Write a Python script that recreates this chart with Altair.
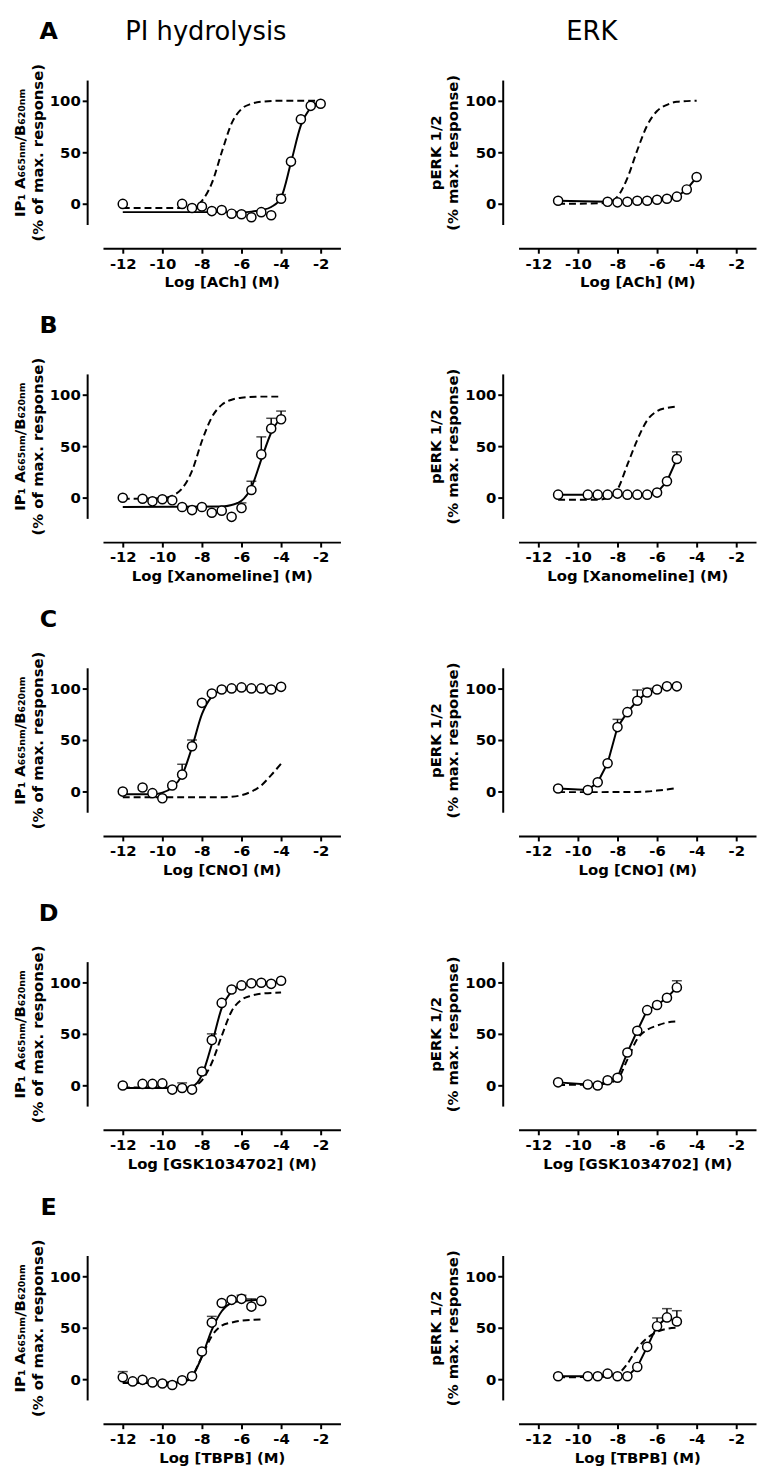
import altair as alt
import pandas as pd

FONT = "DejaVu Sans"

# ---------------- data ----------------
# Panel A, PI hydrolysis (ACh)
A_PI_X = [-12, -9, -8.5, -8, -7.5, -7, -6.5, -6, -5.5, -5, -4.5, -4, -3.5, -3, -2.5, -2]
A_PI_Y = [0, 0, -4, -2.5, -7, -6, -9.5, -10, -13, -8, -11, 5, 41, 82, 95, 97]
A_PI_E = [0, 0, 0, 0, 0, 0, 0, 0, 0, 0, 0, 4, 0, 0, 0, 0]
A_PI_FIT_X = [-12, -6, -5.5, -5, -4.5, -4, -3.5, -3, -2.5, -2]
A_PI_FIT_Y = [-8, -8, -7.5, -6, -3, 6, 40, 76, 93, 99]
A_PI_REF_X = [-12, -9, -8.5, -8, -7.5, -7, -6.5, -6, -5.5, -5, -4, -2]
A_PI_REF_Y = [-4, -4, -3, 3, 20, 50, 78, 92, 97, 99, 100, 100]
# Panel A, ERK (ACh)
A_ERK_X = [-11, -8.5, -8, -7.5, -7, -6.5, -6, -5.5, -5, -4.5, -4]
A_ERK_Y = [3, 2, 1.5, 2, 3, 3, 4, 5, 7, 14, 26]
A_ERK_E = [0, 0, 0, 0, 0, 0, 0, 0, 0, 0, 0]
A_ERK_REF_X = [-11, -9, -8.5, -8, -7.5, -7, -6.5, -6, -5.5, -5, -4]
A_ERK_REF_Y = [0, 0.5, 1.5, 7, 25, 52, 76, 90, 96, 99, 100]

# Panel B, PI hydrolysis (Xanomeline)
B_PI_X = [-12, -11, -10.5, -10, -9.5, -9, -8.5, -8, -7.5, -7, -6.5, -6, -5.5, -5, -4.5, -4]
B_PI_Y = [0, -1, -3.5, -1.5, -2.5, -9, -12, -9, -14.5, -12.5, -18.5, -10, 7.5, 42, 67, 76]
B_PI_E = [0, 0, 0, 0, 0, 0, 0, 0, 0, 0, 0, 5, 8.5, 17, 10, 8]
B_PI_FIT_X = [-12, -7, -6.5, -6, -5.5, -5, -4.5, -4]
B_PI_FIT_Y = [-9, -8.5, -7, -3, 10, 37, 63, 78]
B_PI_REF_X = [-12, -10, -9.5, -9, -8.5, -8, -7.5, -7, -6.5, -6, -5, -4]
B_PI_REF_Y = [-1, -0.5, 2, 9, 26, 55, 78, 90, 95, 97, 98, 98]
# Panel B, ERK (Xanomeline)
B_ERK_X = [-11, -9.5, -9, -8.5, -8, -7.5, -7, -6.5, -6, -5.5, -5]
B_ERK_Y = [3, 3, 3, 3, 4, 3, 3, 3, 5, 16, 37.5]
B_ERK_E = [0, 0, 0, 0, 0, 0, 0, 0, 0, 0, 7]
B_ERK_REF_X = [-11, -9, -8.5, -8, -7.5, -7, -6.5, -6, -5.5, -5]
B_ERK_REF_Y = [-2, -2, 0, 8, 32, 56, 75, 84, 87, 88.5]

# Panel C, PI hydrolysis (CNO)
C_PI_X = [-12, -11, -10.5, -10, -9.5, -9, -8.5, -8, -7.5, -7, -6.5, -6, -5.5, -5, -4.5, -4]
C_PI_Y = [0, 4, -1.5, -6.5, 6, 16.5, 44, 86, 95, 99, 100, 101, 100, 100, 99, 101.5]
C_PI_E = [0, 0, 0, 0, 0, 10, 6, 0, 0, 0, 0, 0, 0, 0, 0, 0]
C_PI_FIT_X = [-12, -10.5, -10, -9.5, -9, -8.5, -8, -7.5, -7, -6, -4]
C_PI_FIT_Y = [-2.5, -2.5, -1, 4, 16, 43, 75, 92, 98, 100, 100]
C_PI_REF_X = [-12, -7, -6.5, -6, -5.5, -5, -4.5, -4]
C_PI_REF_Y = [-5.5, -5.5, -5, -3.5, 0, 6, 16, 27]
# Panel C, ERK (CNO)
C_ERK_X = [-11, -9.5, -9, -8.5, -8, -7.5, -7, -6.5, -6, -5.5, -5]
C_ERK_Y = [3, 1.5, 9, 27.5, 62.5, 77, 88, 96, 99, 102, 102]
C_ERK_E = [0, 0, 0, 0, 7.5, 0, 10.5, 4, 0, 0, 0]
C_ERK_REF_X = [-11, -9, -7, -6.5, -6, -5.5, -5]
C_ERK_REF_Y = [-0.5, -0.5, -0.3, 0, 1, 2, 3.5]

# Panel D, PI hydrolysis (GSK1034702)
D_PI_X = [-12, -11, -10.5, -10, -9.5, -9, -8.5, -8, -7.5, -7, -6.5, -6, -5.5, -5, -4.5, -4]
D_PI_Y = [0, 1.5, 1.5, 2, -4, -2.5, -4, 13.5, 44, 80, 93, 97, 99, 99.5, 98.5, 101.5]
D_PI_E = [0, 0, 0, 0, 0, 5, 0, 0, 6, 0, 0, 0, 0, 0, 0, 0]
D_PI_FIT_X = [-12, -9, -8.5, -8, -7.5, -7, -6.5, -6, -5, -4]
D_PI_FIT_Y = [-2.5, -2.5, -1, 10, 40, 75, 91, 97, 99.5, 100]
D_PI_REF_X = [-12, -9, -8.5, -8, -7.5, -7, -6.5, -6, -5.5, -5, -4]
D_PI_REF_Y = [-2, -2, -1, 5, 22, 48, 72, 83, 87, 89, 90]
# Panel D, ERK (GSK1034702)
D_ERK_X = [-11, -9.5, -9, -8.5, -8, -7.5, -7, -6.5, -6, -5.5, -5]
D_ERK_Y = [3, 1, 0, 5, 7.5, 32, 53, 73, 78, 85, 95]
D_ERK_E = [0, 0, 0, 0, 0, 0, 0, 0, 0, 0, 6.5]
D_ERK_REF_X = [-11, -9, -8.5, -8, -7.5, -7, -6.5, -6, -5.5, -5]
D_ERK_REF_Y = [0.5, 1, 2, 6, 25, 45, 54, 58, 61, 62]

# Panel E, PI hydrolysis (TBPB)
E_PI_X = [-12, -11.5, -11, -10.5, -10, -9.5, -9, -8.5, -8, -7.5, -7, -6.5, -6, -5.5, -5]
E_PI_Y = [2, -2, -0.5, -3, -4, -5.5, -1, 3, 27, 55, 74, 77, 78, 70.5, 76]
E_PI_E = [5.5, 0, 0, 0, 0, 0, 0, 0, 0, 6, 0, 0, 3.5, 7.5, 0]
E_PI_FIT_X = [-12, -10, -9, -8.5, -8, -7.5, -7, -6.5, -6, -5]
E_PI_FIT_Y = [-3.5, -3.5, -2.5, 3, 22, 48, 66, 74, 76, 77]
E_PI_REF_X = [-12, -9, -8.5, -8, -7.5, -7, -6.5, -6, -5]
E_PI_REF_Y = [-3, -3, 3, 22, 42, 52, 55, 57, 58]
# Panel E, ERK (TBPB)
E_ERK_X = [-11, -9.5, -9, -8.5, -8, -7.5, -7, -6.5, -6, -5.5, -5]
E_ERK_Y = [3, 3, 3, 5.5, 3, 3, 12, 31.5, 51.5, 60, 56]
E_ERK_E = [0, 0, 0, 0, 0, 0, 0, 0, 8, 8.5, 10.5]
E_ERK_REF_X = [-11, -8.5, -8, -7.5, -7, -6.5, -6, -5.5, -5]
E_ERK_REF_Y = [2, 2.5, 5, 15, 30, 40, 46, 49, 50]

LETTERS = ["A", "B", "C", "D", "E"]
X_TITLES = ["Log [ACh] (M)", "Log [Xanomeline] (M)", "Log [CNO] (M)",
            "Log [GSK1034702] (M)", "Log [TBPB] (M)"]
PI_YTITLE = ["IP\u2081 A\u2086\u2086\u2085\u2099\u2098/B\u2086\u2082\u2080\u2099\u2098",
             "(% of max. response)"]
ERK_YTITLE = ["pERK 1/2", "(% max. response)"]
HEADERS = ["PI hydrolysis", "ERK"]
X_TICKS = [-12, -10, -8, -6, -4, -2]
Y_TICKS = [0, 50, 100]

# ---------------- chart construction ----------------
W, H = 240, 146
xscale = alt.Scale(domain=[-13, -1], nice=False, zero=False)
yscale = alt.Scale(domain=[-20, 120], nice=False, zero=False)


def x_axis(title):
    return alt.Axis(title=title, values=X_TICKS, labelExpr="'' + datum.value",
                    offset=24, grid=False, domainWidth=2, domainColor="black",
                    tickColor="black", tickWidth=2, tickSize=5,
                    labelFont=FONT, labelFontSize=15, labelFontWeight="bold",
                    labelColor="black", labelPadding=3, labelFlush=False,
                    labelOverlap=False, titleFont=FONT, titleFontSize=15,
                    titleFontWeight="bold", titleColor="black", titlePadding=4)


def y_axis(title):
    return alt.Axis(title=title, values=Y_TICKS, offset=16, grid=False,
                    domainWidth=2, domainColor="black", tickColor="black",
                    tickWidth=2, tickSize=5, labelFont=FONT, labelFontSize=15,
                    labelFontWeight="bold", labelColor="black", labelPadding=2,
                    labelFlush=False, labelOverlap=False, titleFont=FONT,
                    titleFontSize=15, titleFontWeight="bold", titleColor="black",
                    titlePadding=4, titleLineHeight=18)


def panel(px, py, pe, sx, sy, rx, ry, xtitle, ytitle, smooth,
          letter=None, header=None, header_x=0):
    pts = pd.DataFrame({"x": px, "y": py, "err": pe})
    pts["top"] = pts["y"] + pts["err"]
    errs = pts[pts["err"] > 0]
    solid = pd.DataFrame({"x": sx, "y": sy})
    ref = pd.DataFrame({"x": rx, "y": ry})
    X = alt.X("x:Q", scale=xscale, axis=x_axis(xtitle))
    Y = alt.Y("y:Q", scale=yscale, axis=y_axis(ytitle))
    layers = [
        alt.Chart(ref).mark_line(color="black", strokeWidth=2, strokeDash=[7, 4],
                                 interpolate="monotone").encode(x=X, y=Y),
        alt.Chart(solid).mark_line(color="black", strokeWidth=2,
                                   interpolate="monotone" if smooth else "linear"
                                   ).encode(x=X, y=Y),
    ]
    if len(errs):
        layers.append(alt.Chart(errs).mark_rule(color="black", strokeWidth=1.5)
                      .encode(x=X, y=Y, y2="top:Q"))
        layers.append(alt.Chart(errs).mark_tick(color="black", thickness=1.5, size=10,
                                                orient="horizontal")
                      .encode(x=X, y=alt.Y("top:Q", scale=yscale,
                                           axis=y_axis(ytitle))))
    layers.append(alt.Chart(pts).mark_point(shape="circle", filled=True, fill="white",
                                            stroke="black", strokeWidth=1.5, size=85,
                                            opacity=1).encode(x=X, y=Y))
    if letter:
        layers.append(alt.Chart(pd.DataFrame({"t": [letter]})).mark_text(
            font=FONT, fontSize=24, fontWeight="bold", color="black",
            align="center", baseline="middle").encode(
            x=alt.value(-55), y=alt.value(-48), text="t:N"))
    if header:
        layers.append(alt.Chart(pd.DataFrame({"t": [header]})).mark_text(
            font=FONT, fontSize=26, color="black",
            align="center", baseline="middle").encode(
            x=alt.value(header_x), y=alt.value(-48), text="t:N"))
    return alt.layer(*layers).properties(width=W, height=H)


panels = [
    panel(A_PI_X, A_PI_Y, A_PI_E, A_PI_FIT_X, A_PI_FIT_Y, A_PI_REF_X, A_PI_REF_Y,
          X_TITLES[0], PI_YTITLE, True, LETTERS[0], HEADERS[0], 104),
    panel(A_ERK_X, A_ERK_Y, A_ERK_E, A_ERK_X, A_ERK_Y, A_ERK_REF_X, A_ERK_REF_Y,
          X_TITLES[0], ERK_YTITLE, False, None, HEADERS[1], 74),
    panel(B_PI_X, B_PI_Y, B_PI_E, B_PI_FIT_X, B_PI_FIT_Y, B_PI_REF_X, B_PI_REF_Y,
          X_TITLES[1], PI_YTITLE, True, LETTERS[1]),
    panel(B_ERK_X, B_ERK_Y, B_ERK_E, B_ERK_X, B_ERK_Y, B_ERK_REF_X, B_ERK_REF_Y,
          X_TITLES[1], ERK_YTITLE, False),
    panel(C_PI_X, C_PI_Y, C_PI_E, C_PI_FIT_X, C_PI_FIT_Y, C_PI_REF_X, C_PI_REF_Y,
          X_TITLES[2], PI_YTITLE, True, LETTERS[2]),
    panel(C_ERK_X, C_ERK_Y, C_ERK_E, C_ERK_X, C_ERK_Y, C_ERK_REF_X, C_ERK_REF_Y,
          X_TITLES[2], ERK_YTITLE, False),
    panel(D_PI_X, D_PI_Y, D_PI_E, D_PI_FIT_X, D_PI_FIT_Y, D_PI_REF_X, D_PI_REF_Y,
          X_TITLES[3], PI_YTITLE, True, LETTERS[3]),
    panel(D_ERK_X, D_ERK_Y, D_ERK_E, D_ERK_X, D_ERK_Y, D_ERK_REF_X, D_ERK_REF_Y,
          X_TITLES[3], ERK_YTITLE, False),
    panel(E_PI_X, E_PI_Y, E_PI_E, E_PI_FIT_X, E_PI_FIT_Y, E_PI_REF_X, E_PI_REF_Y,
          X_TITLES[4], PI_YTITLE, True, LETTERS[4]),
    panel(E_ERK_X, E_ERK_Y, E_ERK_E, E_ERK_X, E_ERK_Y, E_ERK_REF_X, E_ERK_REF_Y,
          X_TITLES[4], ERK_YTITLE, False),
]

chart = alt.concat(*panels, columns=2, spacing={"row": 151, "column": 180},
                   bounds="flush").properties(
    padding={"top": 3, "left": 4, "right": 0, "bottom": 0}).configure_view(
    stroke="transparent")

chart.save("out.html", embed_options={"renderer": "svg", "actions": False})
